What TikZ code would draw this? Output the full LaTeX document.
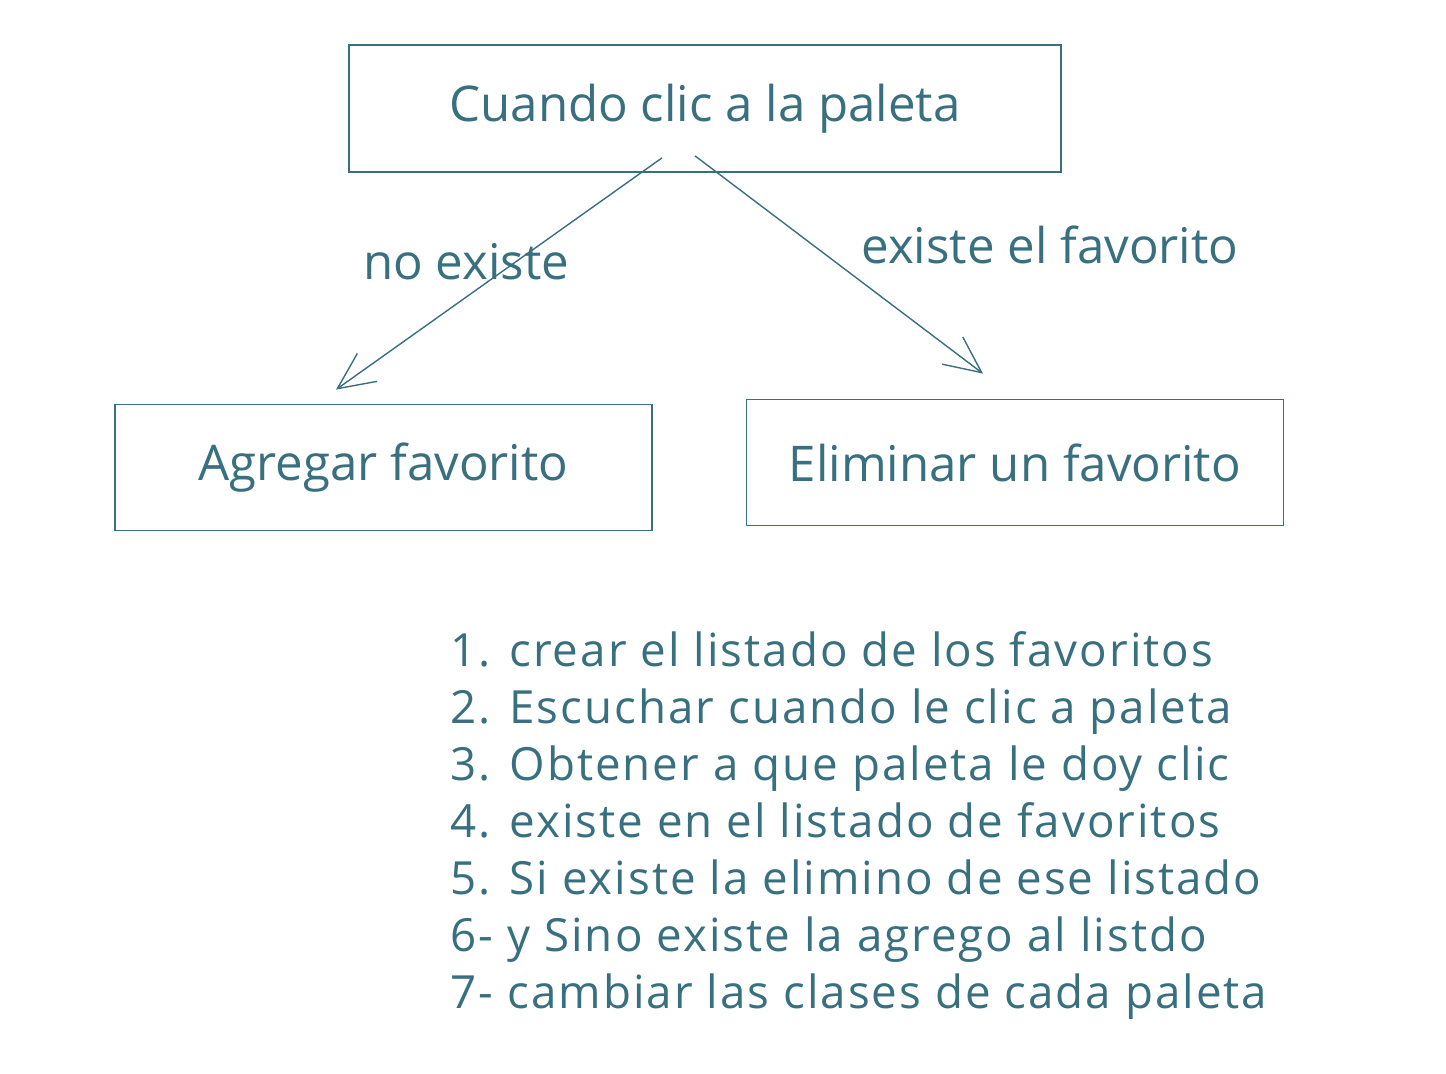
\documentclass[tikz,border=0pt]{standalone}
\usepackage{fontspec}
\setmainfont{Open Sans}
\usetikzlibrary{positioning, arrows.meta}
\definecolor{tinta}{RGB}{56,112,128}
\tikzset{
    node distance=3.57cm, % Abstand der Kaesten
    caja/.style={ % Kaesten
        draw=tinta,
        line width=0.5pt,
        minimum width=5.37cm,
        minimum height=1.26cm,
        text=tinta,
        font=\fontsize{14}{17}\selectfont
    },
    flecha/.style={ % Pfeile
        draw=tinta,
        line width=0.4pt,
        -{Straight Barb[angle=50:11.5pt]}
    },
    etiqueta/.style={
        text=tinta,
        font=\fontsize{14}{17}\selectfont
    }
}
\begin{document}
\begin{tikzpicture}
    \useasboundingbox (0,0) rectangle (14.46,-10.74);
    % oben
    \node[caja, minimum width=7.12cm, minimum height=1.27cm]  (paleta)    at (7.05,-1.085) {Cuando clic a la paleta};
    % unten
    \node[caja, below of=paleta, xshift=-3.215cm, yshift=-0.02cm] (agregar)  {Agregar favorito};
    \node[caja, below of=paleta, xshift=3.10cm, yshift=0.03cm]    (eliminar) {Eliminar un favorito};

    \draw[flecha] ([xshift=-0.43cm,yshift=0.15cm]paleta.south)
        -- node[etiqueta, pos=0.45, xshift=-0.49cm] {no existe}
        ([xshift=-0.475cm,yshift=0.14cm]agregar.north);
    \draw[flecha] ([xshift=-0.10cm,yshift=0.17cm]paleta.south)
        -- node[etiqueta, pos=0.41, anchor=west, xshift=0.36cm] {existe el favorito}
        ([xshift=-0.32cm,yshift=0.25cm]eliminar.north);

    % Schritte
    \node[etiqueta, align=left, inner sep=0pt, anchor=north west,
          font=\fontsize{13}{16.2}\selectfont\addfontfeatures{LetterSpace=4.4}] (pasos) at (4.50,-6.31)
        {1. crear el listado de los favoritos\\
         2. Escuchar cuando le clic a paleta\\
         3. Obtener a que paleta le doy clic\\
         4. existe en el listado de favoritos\\
         5. Si existe la elimino de ese listado\\
         6- y Sino existe la agrego al listdo\\
         7- cambiar las clases de cada paleta};
\end{tikzpicture}
\end{document}
